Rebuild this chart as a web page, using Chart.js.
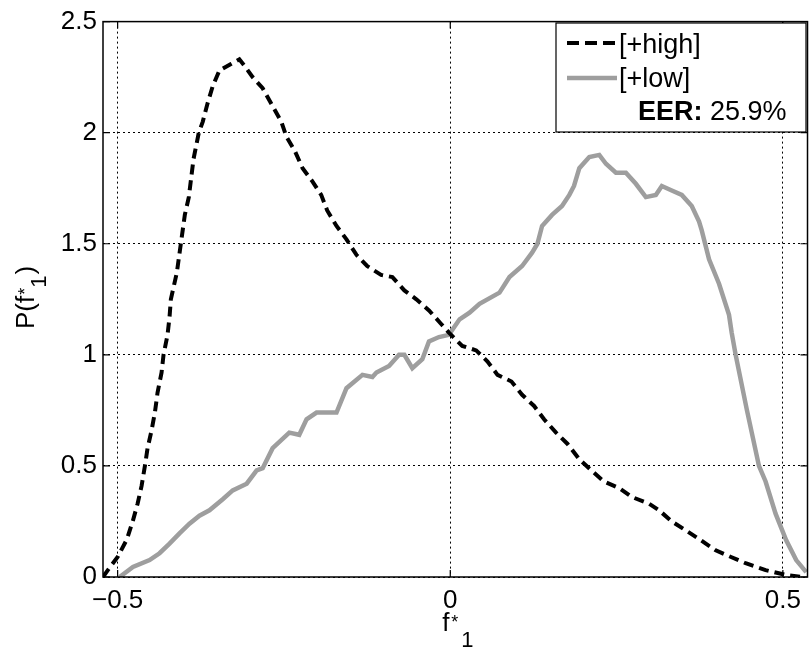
<!DOCTYPE html>
<html>
<head>
<meta charset="utf-8">
<title>P(f*1)</title>
<script src="https://cdn.jsdelivr.net/npm/chart.js@4.4.0/dist/chart.umd.min.js"></script>
<style>
    html, body { margin: 0; padding: 0; background: #fff; }
    #wrap { width: 809px; height: 648px; }
</style>
</head>
<body>
<div id="wrap"><canvas id="densityChart" width="809" height="648"></canvas></div>
<script>
// Density curves for the two conditions
const highX = [-0.522, -0.515, -0.5, -0.486, -0.477, -0.47, -0.464, -0.459, -0.455, -0.449, -0.444, -0.44, -0.434,
    -0.431, -0.425, -0.422, -0.42, -0.411, -0.405, -0.399, -0.393, -0.386, -0.378, -0.372, -0.365, -0.357, -0.347,
    -0.329, -0.317, -0.309, -0.297, -0.282, -0.269, -0.254, -0.246, -0.234, -0.222, -0.207, -0.194, -0.185, -0.171,
    -0.156, -0.141, -0.125, -0.104, -0.087, -0.069, -0.051, -0.032, -0.014, -0.002, 0.018, 0.039, 0.056, 0.071,
    0.092, 0.108, 0.126, 0.141, 0.159, 0.176, 0.194, 0.212, 0.231, 0.254, 0.273, 0.299, 0.314, 0.333, 0.354, 0.377,
    0.399, 0.422, 0.444, 0.474, 0.505, 0.529];
const highY = [0, 0.03, 0.09, 0.17, 0.254, 0.33, 0.41, 0.5, 0.58, 0.66, 0.74, 0.83, 0.92,
    1.0, 1.09, 1.17, 1.25, 1.37, 1.5, 1.63, 1.71, 1.88, 2.0, 2.05, 2.13, 2.21, 2.28,
    2.31, 2.33, 2.3, 2.25, 2.2, 2.13, 2.05, 1.98, 1.92, 1.84, 1.78, 1.72, 1.65, 1.58,
    1.52, 1.45, 1.4, 1.36, 1.35, 1.29, 1.25, 1.2, 1.14, 1.1, 1.04, 1.02, 0.97, 0.91,
    0.88, 0.82, 0.77, 0.71, 0.65, 0.6, 0.53, 0.48, 0.43, 0.4, 0.36, 0.33, 0.3, 0.25, 0.21, 0.165,
    0.12, 0.09, 0.062, 0.031, 0.009, 0];

const lowX = [-0.497, -0.477, -0.452, -0.437, -0.422, -0.407, -0.392, -0.377, -0.362, -0.342, -0.327, -0.306,
    -0.291, -0.282, -0.267, -0.242, -0.227, -0.216, -0.201, -0.171, -0.156, -0.132, -0.117, -0.111, -0.092,
    -0.077, -0.069, -0.057, -0.042, -0.032, -0.017, -0.002, 0.014, 0.029, 0.044, 0.074, 0.089, 0.108, 0.123,
    0.131, 0.138, 0.153, 0.168, 0.179, 0.186, 0.194, 0.209, 0.224, 0.234, 0.249, 0.264, 0.279, 0.294, 0.309,
    0.318, 0.333, 0.348, 0.363, 0.374, 0.378, 0.389, 0.404, 0.419, 0.423, 0.429, 0.446, 0.464, 0.474, 0.489,
    0.505, 0.52, 0.535];
const lowY = [0, 0.045, 0.076, 0.107, 0.15, 0.196, 0.24, 0.276, 0.3, 0.35, 0.39, 0.42,
    0.48, 0.49, 0.58, 0.65, 0.64, 0.71, 0.74, 0.74, 0.85, 0.91, 0.9, 0.92, 0.95,
    1.0, 1.0, 0.94, 0.98, 1.06, 1.08, 1.09, 1.16, 1.19, 1.23, 1.28, 1.35, 1.4, 1.46,
    1.5, 1.58, 1.63, 1.67, 1.72, 1.76, 1.84, 1.89, 1.9, 1.86, 1.82, 1.82, 1.77, 1.71, 1.72,
    1.76, 1.74, 1.72, 1.67, 1.6, 1.56, 1.43, 1.32, 1.18, 1.1, 1.0, 0.75, 0.5, 0.43, 0.285,
    0.165, 0.076, 0.022];

// Axes
const xTickValues = [-0.5, 0, 0.5];
const xTickLabels = ["\u22120.5", "0", "0.5"];
const yTickValues = [0, 0.5, 1, 1.5, 2, 2.5];
const yTickLabels = ["0", "0.5", "1", "1.5", "2", "2.5"];

const seriesNames = ["[+high]", "[+low]"];
const eerLabel = "EER:";
const eerValue = "25.9%";

const FONT = '"Liberation Sans", Arial, Helvetica, sans-serif';
const highColor = "#000000";
const lowColor = "#9e9e9e";

function toPoints(xs, ys) {
    return xs.map((x, i) => ({ x: x, y: ys[i] }));
}

// Box, inward ticks, axis titles and legend
const decorations = {
    id: "decorations",
    afterDatasetsDraw(chart) {
        const ctx = chart.ctx;
        const area = chart.chartArea;
        const xs = chart.scales.x;
        const ys = chart.scales.y;

        ctx.save();
        ctx.strokeStyle = "#000";
        ctx.lineWidth = 1.5;
        ctx.setLineDash([]);
        ctx.strokeRect(area.left, area.top, area.right - area.left, area.bottom - area.top);

        // small ticks pointing into the plot on all four sides
        ctx.lineWidth = 1.2;
        ctx.beginPath();
        xTickValues.forEach(v => {
            const px = xs.getPixelForValue(v);
            ctx.moveTo(px, area.bottom); ctx.lineTo(px, area.bottom - 7);
            ctx.moveTo(px, area.top); ctx.lineTo(px, area.top + 7);
        });
        yTickValues.forEach(v => {
            const py = ys.getPixelForValue(v);
            ctx.moveTo(area.left, py); ctx.lineTo(area.left + 7, py);
            ctx.moveTo(area.right, py); ctx.lineTo(area.right - 7, py);
        });
        ctx.stroke();

        ctx.fillStyle = "#000";
        ctx.textAlign = "left";
        ctx.textBaseline = "alphabetic";

        // x axis title: f*_1
        const cx = xs.getPixelForValue(0);
        ctx.font = "26px " + FONT;
        ctx.fillText("f", cx - 8, 631);
        ctx.font = "18px " + FONT;
        ctx.fillText("*", cx + 1, 628);
        ctx.font = "22px " + FONT;
        ctx.fillText("1", cx + 11, 647);

        // y axis title: P(f*_1)
        ctx.save();
        ctx.translate(34, 329);
        ctx.rotate(-Math.PI / 2);
        ctx.font = "26px " + FONT;
        let tx = 0;
        ctx.fillText("P(f", tx, 0);
        tx += ctx.measureText("P(f").width;
        ctx.font = "18px " + FONT;
        ctx.fillText("*", tx + 1, -3);
        tx += ctx.measureText("*").width + 1;
        ctx.font = "22px " + FONT;
        ctx.fillText("1", tx, 12);
        tx += ctx.measureText("1").width + 1;
        ctx.font = "26px " + FONT;
        ctx.fillText(")", tx, 0);
        ctx.restore();

        // legend
        const lx = 556, ly = 23, lw = 250, lh = 109;
        ctx.fillStyle = "#fff";
        ctx.fillRect(lx, ly, lw, lh);
        ctx.strokeStyle = "#000";
        ctx.lineWidth = 1.2;
        ctx.strokeRect(lx, ly, lw, lh);

        ctx.lineWidth = 4;
        ctx.strokeStyle = highColor;
        ctx.setLineDash([12, 6]);
        ctx.beginPath();
        ctx.moveTo(567, 43); ctx.lineTo(617, 43);
        ctx.stroke();

        ctx.lineWidth = 4.5;
        ctx.strokeStyle = lowColor;
        ctx.setLineDash([]);
        ctx.beginPath();
        ctx.moveTo(567, 78); ctx.lineTo(617, 78);
        ctx.stroke();

        ctx.fillStyle = "#000";
        ctx.textBaseline = "middle";
        ctx.font = "27px " + FONT;
        ctx.fillText(seriesNames[0], 619, 46);
        ctx.fillText(seriesNames[1], 619, 80);
        ctx.font = "bold 27px " + FONT;
        ctx.fillText(eerLabel, 638, 113);
        const w = ctx.measureText(eerLabel + " ").width;
        ctx.font = "27px " + FONT;
        ctx.fillText(eerValue, 638 + w, 113);

        ctx.restore();
    }
};

const chart = new Chart(document.getElementById("densityChart"), {
    type: "scatter",
    data: {
        datasets: [
            {
                label: seriesNames[0],
                data: toPoints(highX, highY),
                showLine: true,
                borderColor: highColor,
                borderWidth: 4,
                borderDash: [10, 6],
                pointRadius: 0,
                tension: 0,
                fill: false
            },
            {
                label: seriesNames[1],
                data: toPoints(lowX, lowY),
                showLine: true,
                borderColor: lowColor,
                borderWidth: 4.5,
                pointRadius: 0,
                tension: 0,
                fill: false
            }
        ]
    },
    options: {
        responsive: false,
        animation: false,
        layout: { padding: { top: 16, right: 1, left: 0, bottom: 0 } },
        plugins: {
            legend: { display: false },
            tooltip: { enabled: false }
        },
        scales: {
            x: {
                type: "linear",
                min: -0.522,
                max: 0.537,
                afterBuildTicks: axis => { axis.ticks = xTickValues.map(v => ({ value: v })); },
                afterFit: axis => { axis.height = 71; },
                ticks: {
                    autoSkip: false,
                    maxRotation: 0,
                    padding: 8,
                    color: "#000",
                    font: { family: FONT, size: 26 },
                    callback: (value, index) => xTickLabels[index]
                },
                grid: { color: "#000", lineWidth: 1, drawTicks: false },
                border: { display: false, dash: [2, 3] }
            },
            y: {
                type: "linear",
                min: 0,
                max: 2.5,
                afterBuildTicks: axis => { axis.ticks = yTickValues.map(v => ({ value: v })); },
                afterFit: axis => { axis.width = 103; },
                ticks: {
                    padding: 6,
                    color: "#000",
                    font: { family: FONT, size: 26 },
                    callback: (value, index) => yTickLabels[index]
                },
                grid: { color: "#000", lineWidth: 1, drawTicks: false },
                border: { display: false, dash: [2, 3] }
            }
        }
    },
    plugins: [decorations]
});
</script>
</body>
</html>
